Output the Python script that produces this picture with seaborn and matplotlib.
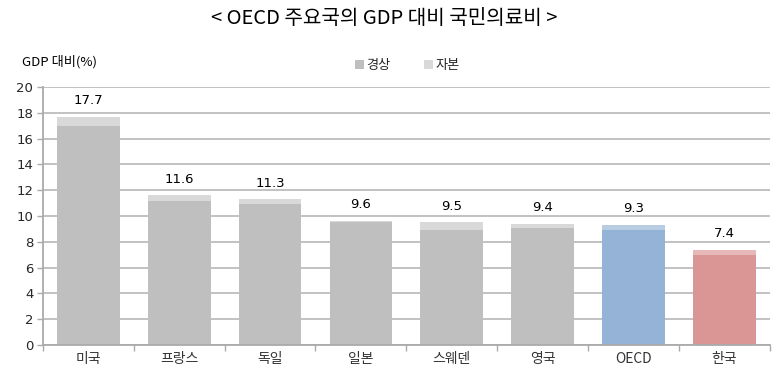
import matplotlib
matplotlib.use("Agg")
import matplotlib.pyplot as plt
import seaborn as sns
import pandas as pd
from matplotlib.patches import Patch

countries = ["미국", "프랑스", "독일", "일본", "스웨덴", "영국", "OECD", "한국"]
current = [17.0, 11.2, 10.9, 9.5, 8.9, 9.1, 8.9, 7.0]
capital = [0.7, 0.4, 0.4, 0.1, 0.6, 0.3, 0.4, 0.4]
totals = [17.7, 11.6, 11.3, 9.6, 9.5, 9.4, 9.3, 7.4]
yticks = [0, 2, 4, 6, 8, 10, 12, 14, 16, 18, 20]

dark_colors = ["#bfbfbf"] * 6 + ["#95b3d7", "#d99694"]
light_colors = ["#d9d9d9"] * 6 + ["#b8cce4", "#e6b9b8"]

sns.set_theme(style="white")
plt.rcParams['font.family'] = ['Noto Sans CJK KR', 'DejaVu Sans']

df = pd.DataFrame({"country": countries, "current": current, "capital": capital})
df["stack"] = df["current"] + df["capital"]

fig = plt.figure(figsize=(7.79, 3.79), dpi=100)
ax = fig.add_axes([0.0552, 0.0897, 0.9328, 0.6807])

sns.barplot(data=df, x="country", y="stack", hue="country", palette=light_colors,
            width=0.69, legend=False, ax=ax, saturation=1, linewidth=0, edgecolor="none")
sns.barplot(data=df, x="country", y="current", hue="country", palette=dark_colors,
            width=0.69, legend=False, ax=ax, saturation=1, linewidth=0, edgecolor="none")

for i, t in enumerate(totals):
    ax.text(i, df["stack"][i] + 0.75, f"{t:.1f}", ha="center", va="bottom",
            fontsize=9.5, color="#000000", family=['DejaVu Sans'])

ax.set_ylim(0, 20)
ax.set_xlim(-0.5, 7.5)
ax.set_yticks(yticks)
ax.set_yticklabels([str(v) for v in yticks], fontsize=9.5, family=['DejaVu Sans'])
ax.yaxis.grid(True, color="#bdbdbd", linewidth=1.3)
ax.set_axisbelow(True)
ax.set_xlabel("")
ax.set_ylabel("")
ax.set_xticks(range(len(countries)))
ax.set_xticklabels(countries, fontsize=10, color="#333333")
ax.set_xticks([i - 0.5 for i in range(len(countries) + 1)], minor=True)
ax.tick_params(axis="x", which="major", length=0, pad=5)
ax.tick_params(axis="x", which="minor", length=4, color="#aaaaaa", width=1, direction="out", bottom=True)
ax.tick_params(axis="y", length=4, color="#aaaaaa", width=1, left=True, pad=3)

for s in ["top", "right"]:
    ax.spines[s].set_visible(False)
for s in ["left", "bottom"]:
    ax.spines[s].set_color("#aaaaaa")
    ax.spines[s].set_linewidth(1.3)

fig.text(0.493, 0.952, "< OECD 주요국의 GDP 대비 국민의료비 >", ha="center", va="center",
         fontsize=14.5, color="#000000")
fig.text(0.028, 0.837, "GDP 대비(%)", ha="left", va="center", fontsize=9.5, color="#000000")

handles = [Patch(facecolor="#bfbfbf", edgecolor="none"), Patch(facecolor="#d9d9d9", edgecolor="none")]
fig.legend(handles, ["경상", "자본"], loc="center", bbox_to_anchor=(0.523, 0.826), ncol=2,
           frameon=False, fontsize=9.5, handlelength=0.7, handleheight=0.7,
           handletextpad=0.2, columnspacing=2.5)

fig.savefig("out.png", dpi=100)
